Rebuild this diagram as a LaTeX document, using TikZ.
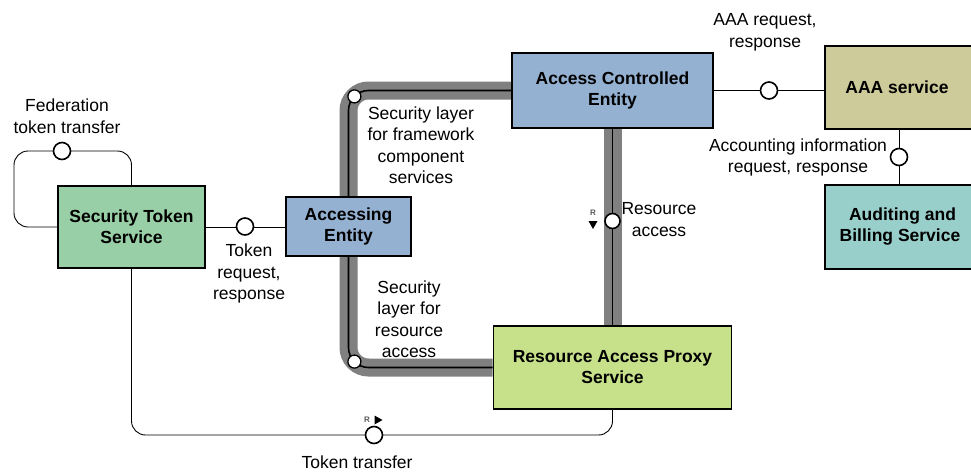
\documentclass[tikz,border=0pt]{standalone}
\usepackage{fontspec}
\setmainfont{Liberation Sans}
\usetikzlibrary{calc,backgrounds}
\definecolor{stsgreen}{HTML}{99CFA6}
\definecolor{entblue}{HTML}{95B1D1}
\definecolor{rapsgreen}{HTML}{C6E18A}
\definecolor{aaakhaki}{HTML}{CECB9A}
\definecolor{audteal}{HTML}{99CFCB}
\definecolor{layergray}{HTML}{808080}
\begin{document}
\begin{tikzpicture}[x=1pt,y=-1pt,
  box/.style={draw=black, line width=1.6pt, font=\fontsize{17.5}{21}\selectfont\bfseries, align=center, inner sep=0pt},
  lbl/.style={font=\fontsize{17.5}{21.5}\selectfont, align=center, inner sep=0pt},
  conn/.style={draw=black, line width=0.9pt, rounded corners=14pt},
  itf/.style={circle, draw=black, fill=white, line width=1.6pt, minimum size=17pt, inner sep=0pt},
  itfs/.style={circle, draw=black, fill=white, line width=1.3pt, minimum size=13pt, inner sep=0pt},
  layer/.style={draw=layergray, line width=18pt, rounded corners=20pt},
  core/.style={draw=black, line width=1.6pt, rounded corners=20pt},
  rmark/.style={font=\bfseries\fontsize{8}{8}\selectfont, text=black!65, inner sep=0pt}
]
\useasboundingbox (0,0) rectangle (971,471);
\clip (0,0) rectangle (971,471);

% boxes
\node[box, fill=stsgreen, minimum width=147pt, minimum height=82pt] (sts) at (131.5,227) {Security Token\\Service};
\node[box, fill=entblue, minimum width=125pt, minimum height=59pt] (ae) at (348.5,226.5) {Accessing\\Entity};
\node[box, fill=entblue, minimum width=201pt, minimum height=75pt] (ace) at (612.5,90.5) {Access Controlled\\Entity};
\node[box, fill=rapsgreen, minimum width=238pt, minimum height=83pt] (raps) at (612.5,367.5) {Resource Access Proxy\\Service};
\node[box, fill=aaakhaki, minimum width=155pt, minimum height=83pt] (aaa) at (902.5,87.5) {AAA service\hspace*{11pt}};
\node[box, fill=audteal, minimum width=155pt, minimum height=84pt] (aud) at (902.5,227) {Auditing and\\Billing Service\hspace*{5pt}};

\coordinate (loopc) at (14,151);
\coordinate (ttc) at (612.5,435);

\begin{scope}[on background layer]
  % security layers
  \draw[layer] (ace.west) -| (ae.north);
  \draw[core] (ace.west) -| (ae.north);
  \draw[layer] (ae.south) |- (raps.west);
  \draw[core] (ae.south) |- (raps.west);
  \draw[layer] (ace.south) -- (raps.north);
  \draw[core] (ace.south) -- (raps.north);
  % thin connectors
  \draw[conn] (sts.west) -| (loopc) -| (sts.north);
  \draw[conn] (sts.south) |- (ttc) -- (raps.south);
  \draw[conn] (sts.east) -- (sts.east -| ae.west);
  \draw[conn] (ace.east) -- (ace.east -| aaa.west);
  \draw[conn] ($(aaa.south)+(-3.5,0)$) -- ($(aud.north)+(-3.5,0)$);
\end{scope}

% interface circles
\node[itf] (ifed) at (62,151) {};
\node[itf] (itok) at (245,226.5) {};
\node[itf] (iaaa) at (769,90.5) {};
\node[itf] (iacc) at (899,157) {};
\node[itf] (itt) at (374,435) {};
\node[itf, minimum size=15pt] (ires) at (612.5,221) {};
\node[itfs] (isl1) at (354.4,96.4) {};
\node[itfs] (isl2) at (354.4,361.6) {};

% R markers
\node[rmark] (rres) at (593,213) {R};
\fill (588.5,221) -- (597.5,221) -- (593,229) -- cycle;
\node[rmark] (rtt) at (367,420) {R};
\fill (374.5,415.5) -- (382.5,420) -- (374.5,424.5) -- cycle;

% labels
\node[lbl] (fedl) at (67,116) {Federation\\token transfer};
\node[lbl] (trl) at (249,273.5) {Token\\request,\\response};
\node[lbl] (sl1) at (421,145) {Security layer\\for framework\\component\\services};
\node[lbl] (sl2) at (409,319) {Security\\layer for\\resource\\access};
\node[lbl] (ral) at (659,219.5) {Resource\\access};
\node[lbl] (aaal) at (765,32.5) {AAA request,\\response};
\node[lbl] (accl) at (798,157.5) {Accounting information\\request, response};
\node[lbl] (ttl) at (357,462) {Token transfer};
\end{tikzpicture}
\end{document}
